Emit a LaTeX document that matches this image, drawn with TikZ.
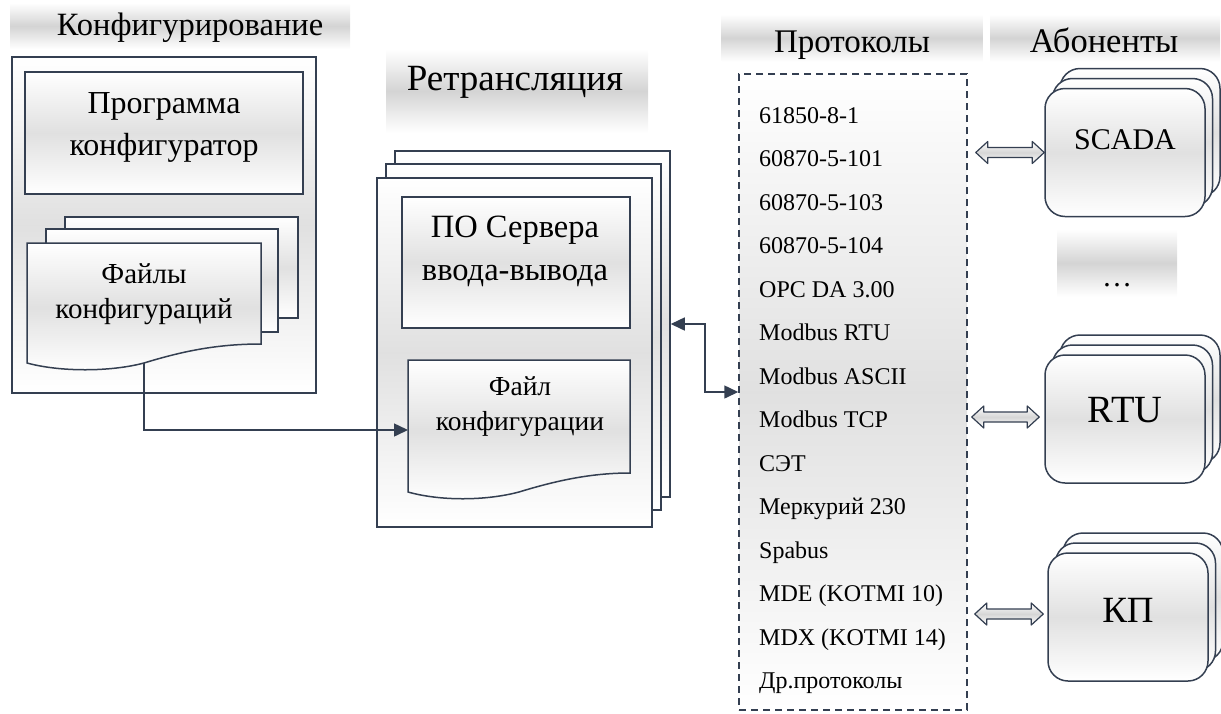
\documentclass[tikz,border=0pt]{standalone}
\usepackage{fontspec}
\setmainfont{Liberation Serif}
\usetikzlibrary{arrows.meta,calc}

\definecolor{navy}{RGB}{52,63,81}

\tikzset{
	band/.style={top color=white, bottom color=white, middle color=gray!34, inner sep=0pt, minimum height=#1},
	sheet/.style={draw=navy, line width=1.5pt, top color=white, bottom color=white, middle color=gray!24, inner sep=0pt},
	abon/.style={sheet, rounded corners=20pt, minimum width=160pt, minimum height=128pt},
	conn/.style={draw=navy, line width=1.5pt},
	tip/.style={-{Triangle[length=14pt,width=13pt]}},
	fat/.style={draw=navy, line width=1.2pt, line join=round, top color=white, bottom color=white, middle color=gray!32,
		to path={let \p1=(\tikztostart), \p2=(\tikztotarget) in
			(\x1,\y1) -- (\x1+12pt,\y1+11pt) -- (\x1+12pt,\y1+5pt) -- (\x2-12pt,\y1+5pt) -- (\x2-12pt,\y1+11pt)
			-- (\x2,\y1) -- (\x2-12pt,\y1-11pt) -- (\x2-12pt,\y1-5pt) -- (\x1+12pt,\y1-5pt) -- (\x1+12pt,\y1-11pt) -- cycle}},
	hdr/.style={anchor=base, font=\fontsize{33}{38}\selectfont},
	lbl/.style={anchor=base, align=center}
}

\begin{document}
\begin{tikzpicture}[x=1pt, y=-1pt]

	\useasboundingbox (0,0) rectangle (1221,713);

	\node[band=46pt, minimum width=340pt] (bkonf) at (180,26) {};
	\node[hdr, font=\fontsize{32.5}{38}\selectfont] (tkonf) at (190,35) {Конфигурирование};
	\node[band=83pt, minimum width=262pt] (bretr) at (517,91) {};
	\node[hdr, font=\fontsize{37}{42}\selectfont] (tretr) at (515,90) {Ретрансляция};
	\node[band=47pt, minimum width=261pt] (bproto) at (852,38) {};
	\node[hdr] (tproto) at (852,52) {Протоколы};
	\node[band=47pt, minimum width=230pt] (babon) at (1105,38) {};
	\node[hdr, font=\fontsize{34.5}{38}\selectfont] (tabon) at (1104,52) {Абоненты};

	\node[sheet, minimum width=304pt, minimum height=336pt] (konf) at (164,225) {};
	\node[sheet, minimum width=278pt, minimum height=122pt] (prog) at (164,133) {};
	\node[lbl, font=\fontsize{32}{42}\selectfont] (tprog) at (164,155) {Программа\\конфигуратор};
	\node[sheet, minimum width=233pt, minimum height=101pt] (filesB) at (181.5,267.5) {};
	\node[sheet, minimum width=232pt, minimum height=103pt] (filesM) at (162,280.5) {};
	\draw[sheet] (27,243) -- (261,243) -- (261,344) .. controls (215,344) and (180,352) .. (144,363)
		.. controls (110,372) and (60,372) .. (27,363) -- cycle;
	\node[lbl, font=\fontsize{29}{35}\selectfont] (tfiles) at (144,318) {Файлы\\конфигураций};
	\coordinate (filesbot) at (144,363);

	\node[sheet, minimum width=275pt, minimum height=346pt] (retrB) at (532.5,324) {};
	\node[sheet, minimum width=275pt, minimum height=346pt] (retrM) at (523.5,337) {};
	\node[sheet, minimum width=275pt, minimum height=349pt] (retrF) at (514.5,352.5) {};
	\node[sheet, minimum width=228pt, minimum height=131pt] (srv) at (516,262.5) {};
	\node[lbl, font=\fontsize{32.5}{43}\selectfont] (tsrv) at (515,280) {ПО Сервера\\ввода-вывода};
	\draw[sheet] (408,360) -- (630,360) -- (630,473) .. controls (590,473) and (555,481) .. (519,492)
		.. controls (485,501) and (440,501) .. (408,492) -- cycle;
	\node[lbl, font=\fontsize{27.5}{35}\selectfont] (tcfg) at (520,430) {Файл\\конфигурации};
	\coordinate (cfgin) at (408,430);

	\node[sheet, dash pattern=on 7pt off 5pt, minimum width=228pt, minimum height=636pt] (proto) at (853,392) {};
	\foreach \p [count=\i from 0] in {61850-8-1, 60870-5-101, 60870-5-103, 60870-5-104, OPC DA 3.00,
		Modbus RTU, Modbus ASCII, Modbus TCP, СЭТ, Меркурий 230, Spabus, MDE (KOTMI 10), MDX (KOTMI 14), Др.протоколы}
		\node[anchor=base west, inner sep=0pt, font=\fontsize{24}{28}\selectfont] (p\i) at (759,123+43.5*\i) {\p};

	\node[abon] (scadaB) at (1140,132.5) {};
	\node[abon] (scadaM) at (1132.5,142.5) {};
	\node[abon] (scada) at (1125,152.5) {};
	\node[anchor=base, font=\fontsize{30}{34}\selectfont] (tscada) at (1125,149) {SCADA};
	\node[band=67pt, minimum width=120pt] (bdots) at (1117,263) {};
	\node[anchor=base, font=\fontsize{30}{34}\selectfont] (tdots) at (1117,286) {…};
	\node[abon] (rtuB) at (1140,399) {};
	\node[abon] (rtuM) at (1132.5,409) {};
	\node[abon] (rtu) at (1125,419) {};
	\node[anchor=base, font=\fontsize{38.5}{42}\selectfont] (trtu) at (1125,422) {RTU};
	\node[abon] (kpB) at (1143,597) {};
	\node[abon] (kpM) at (1135.5,607) {};
	\node[abon] (kp) at (1128,617) {};
	\node[anchor=base, font=\fontsize{37}{42}\selectfont] (tkp) at (1128,622) {КП};

	\draw[conn, tip] (filesbot) |- (cfgin);
	\draw[conn, {Triangle[length=14pt,width=13pt]}-{Triangle[length=14pt,width=13pt]}] (retrB.east) -- ++(34,0) |- (proto.west);
	\draw[fat] ($(proto.east |- scada.west)+(8,0)$) to (scada.west);
	\draw[fat] ($(proto.east |- rtu.west)+(4,-2)$) to ($(rtu.west)+(-5,-2)$);
	\draw[fat] ($(proto.east |- kp.west)+(7,-3)$) to ($(kp.west)+(-4,-3)$);

\end{tikzpicture}
\end{document}
